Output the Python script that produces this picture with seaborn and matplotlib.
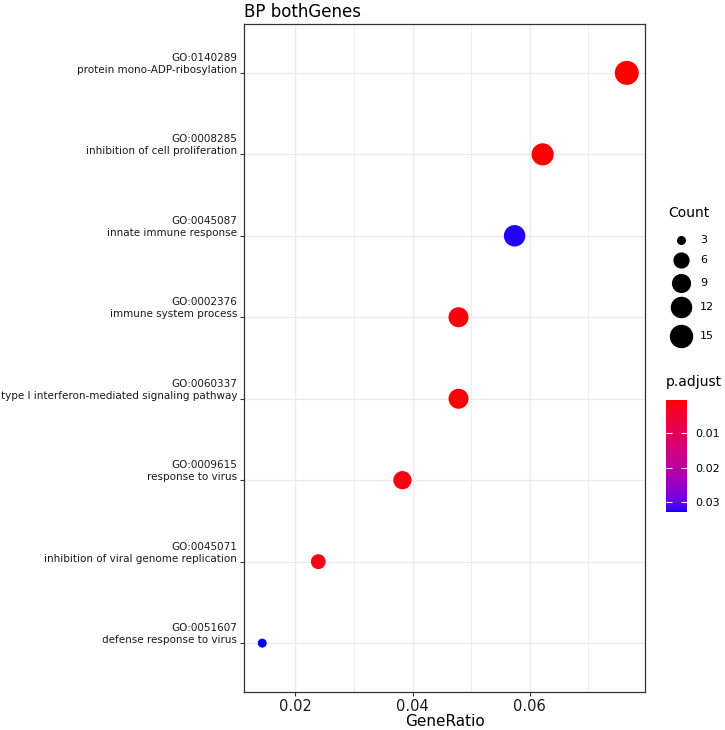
import numpy as np
import pandas as pd
import matplotlib
matplotlib.use("Agg")
import matplotlib.pyplot as plt
import seaborn as sns
from matplotlib.colors import ListedColormap, Normalize
from matplotlib.cm import ScalarMappable

go_ids = ["GO:0140289", "GO:0008285", "GO:0045087", "GO:0002376",
          "GO:0060337", "GO:0009615", "GO:0045071", "GO:0051607"]
descriptions = ["protein mono-ADP-ribosylation", "inhibition of cell proliferation",
                "innate immune response", "immune system process",
                "type I interferon-mediated signaling pathway", "response to virus",
                "inhibition of viral genome replication", "defense response to virus"]
gene_ratio = [16/209, 13/209, 12/209, 10/209, 10/209, 8/209, 5/209, 3/209]
counts = [16, 13, 12, 10, 10, 8, 5, 3]
p_adjust = [0.0002, 0.0004, 0.0325, 0.0008, 0.0006, 0.0012, 0.0018, 0.0330]
legend_counts = [3, 6, 9, 12, 15]
cbar_ticks = [0.01, 0.02, 0.03]

labels = [f"{g}\n{d}" for g, d in zip(go_ids, descriptions)]
df = pd.DataFrame({"label": labels, "GeneRatio": gene_ratio,
                   "Count": counts, "p.adjust": p_adjust})


# --- Lab-space gradient red -> blue (like ggplot2) ---
def srgb_to_lab(rgb):
    rgb = np.asarray(rgb, float)
    lin = np.where(rgb <= 0.04045, rgb / 12.92, ((rgb + 0.055) / 1.055) ** 2.4)
    M = np.array([[0.4124, 0.3576, 0.1805], [0.2126, 0.7152, 0.0722],
                  [0.0193, 0.1192, 0.9505]])
    xyz = M @ lin / np.array([0.95047, 1.0, 1.08883])
    f = np.where(xyz > 0.008856, np.cbrt(xyz), 7.787 * xyz + 16 / 116)
    return np.array([116 * f[1] - 16, 500 * (f[0] - f[1]), 200 * (f[1] - f[2])])


def lab_to_srgb(lab):
    L, a, b = lab
    fy = (L + 16) / 116
    fx = fy + a / 500
    fz = fy - b / 200
    f = np.array([fx, fy, fz])
    xyz = np.where(f ** 3 > 0.008856, f ** 3, (f - 16 / 116) / 7.787)
    xyz = xyz * np.array([0.95047, 1.0, 1.08883])
    Minv = np.array([[3.2406, -1.5372, -0.4986], [-0.9689, 1.8758, 0.0415],
                     [0.0557, -0.2040, 1.0570]])
    lin = Minv @ xyz
    lin = np.clip(lin, 0, 1)
    rgb = np.where(lin <= 0.0031308, 12.92 * lin, 1.055 * lin ** (1 / 2.4) - 0.055)
    return np.clip(rgb, 0, 1)


lab_lo = srgb_to_lab([1.0, 0.0, 0.0])
lab_hi = srgb_to_lab([0.0, 0.0, 1.0])
cols = [lab_to_srgb(lab_lo + (lab_hi - lab_lo) * t) for t in np.linspace(0, 1, 256)]
cmap = ListedColormap(cols)
norm = Normalize(vmin=min(p_adjust), vmax=max(p_adjust))

cmin, cmax = min(counts), max(counts)


def diam_px(c):
    return 9 + 15 * np.sqrt((c - cmin) / (cmax - cmin))


def s_pt2(c):
    return (diam_px(c) * 72 / 100) ** 2


fig = plt.figure(figsize=(7.25, 7.3), dpi=100)
ax = fig.add_axes([244/725, 1 - 692/730, 401/725, 668/730])

sns.scatterplot(data=df, x="GeneRatio", y="label", hue="p.adjust", palette=cmap,
                hue_norm=norm, size="Count",
                sizes={c: s_pt2(c) for c in set(counts)},
                legend=False, linewidth=0, ax=ax, zorder=3)

n = len(labels)
ax.set_ylim(n - 1 + 0.6, -0.6)
rng = max(gene_ratio) - min(gene_ratio)
ax.set_xlim(min(gene_ratio) - 0.05 * rng, max(gene_ratio) + 0.05 * rng)
ax.set_xticks([0.02, 0.04, 0.06])
ax.set_xticklabels(["0.02", "0.04", "0.06"])
ax.set_xticks([0.03, 0.05, 0.07], minor=True)
ax.grid(True, which="major", color="#EBEBEB", linewidth=1.0, zorder=0)
ax.grid(True, which="minor", axis="x", color="#EBEBEB", linewidth=0.6, zorder=0)
ax.set_axisbelow(True)
ax.set_facecolor("white")
for sp in ax.spines.values():
    sp.set_color("#333333")
    sp.set_linewidth(0.9)
ax.tick_params(axis="y", labelsize=7.5, length=3, color="#333333", pad=2,
               labelcolor="#1a1a1a")
ax.tick_params(axis="x", labelsize=10.5, length=3, color="#333333", pad=2,
               labelcolor="#1a1a1a")
ax.tick_params(which="minor", length=0)
for t in ax.get_yticklabels():
    t.set_horizontalalignment("right")
    t.set_multialignment("right")
    t.set_verticalalignment("baseline")
    t.set_linespacing(1.25)
ax.set_xlabel("GeneRatio", fontsize=11, labelpad=0)
ax.set_ylabel("")
ax.set_title("BP bothGenes", loc="left", fontsize=12, pad=5)

# Count legend
fig.text(668/725, 1 - 213/730, "Count", fontsize=10, va="center", ha="left")
lax = fig.add_axes([0, 0, 1, 1], facecolor="none")
lax.set_xlim(0, 725)
lax.set_ylim(730, 0)
lax.axis("off")
key_y = [240, 260, 283, 307, 336]
for c, yy in zip(legend_counts, key_y):
    lax.scatter([681], [yy], s=s_pt2(c), color="black", linewidth=0)
    lax.text(700, yy, str(c), fontsize=8, va="center", ha="left")

# p.adjust colorbar
fig.text(666/725, 1 - 382/730, "p.adjust", fontsize=10, va="center", ha="left")
cax = fig.add_axes([666/725, 1 - 512/730, 21/725, 112/730])
sm = ScalarMappable(norm=norm, cmap=cmap)
cb = fig.colorbar(sm, cax=cax, ticks=cbar_ticks)
cb.outline.set_visible(False)
cax.invert_yaxis()
cax.set_yticklabels([f"{t:.2f}" for t in cbar_ticks])
cax.tick_params(axis="y", direction="in", color="white", length=4, width=0.8,
                labelsize=8, left=True, right=True, pad=6)

fig.savefig("out.png", dpi=100)
